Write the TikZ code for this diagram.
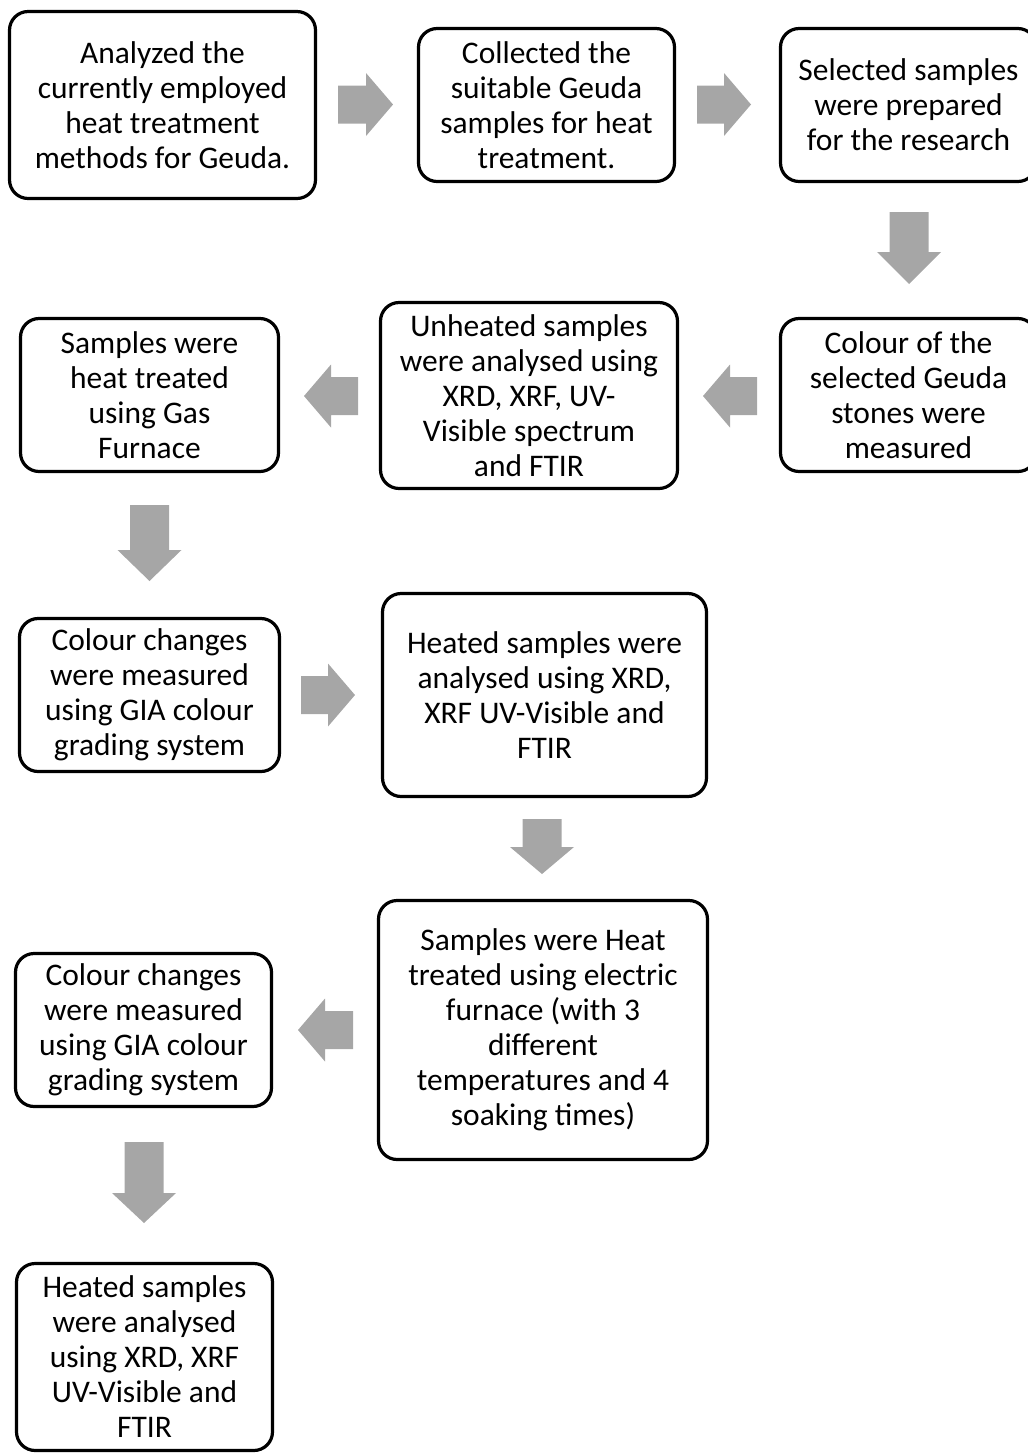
\documentclass[tikz,border=0pt]{standalone}
\usepackage{fontspec}
\setmainfont{Carlito}
\definecolor{arrgray}{HTML}{A6A6A6}
\tikzset{
  stepbox/.style={draw=black, line width=2.4pt, rounded corners=14pt, align=center,
    inner sep=0pt, font=\fontsize{23.6pt}{26.25pt}\selectfont, text=black},
  arrowfill/.style={fill=arrgray, draw=none}
}
% right arrow: tail x, tip x, centre y
\newcommand{\rarr}[3]{\fill[arrowfill] (#1,#3-19) -- (#2-27,#3-19) -- (#2-27,#3-31.5) -- (#2,#3) -- (#2-27,#3+31.5) -- (#2-27,#3+19) -- (#1,#3+19) -- cycle;}
% left arrow: tip x, tail x, centre y
\newcommand{\larr}[3]{\fill[arrowfill] (#2,#3-19) -- (#1+27,#3-19) -- (#1+27,#3-31.5) -- (#1,#3) -- (#1+27,#3+31.5) -- (#1+27,#3+19) -- (#2,#3+19) -- cycle;}
% down arrow: centre x, top y, tip y, head length
\newcommand{\darr}[4]{\fill[arrowfill] (#1-19.5,#2) -- (#1+19.5,#2) -- (#1+19.5,#3-#4) -- (#1+32,#3-#4) -- (#1,#3) -- (#1-32,#3-#4) -- (#1-19.5,#3-#4) -- (#1-19.5,#2) -- cycle;}
\begin{document}
\begin{tikzpicture}[x=0.75pt,y=-0.75pt]
\useasboundingbox (0,0) rectangle (1028,1454);
\node[stepbox, minimum width=306*0.75pt, minimum height=187*0.75pt] (b1) at (162.5,105)
  {Analyzed the\\currently employed\\heat treatment\\methods for Geuda.};
\node[stepbox, minimum width=256*0.75pt, minimum height=153*0.75pt] (b2) at (546.5,105)
  {Collected the\\suitable Geuda\\samples for heat\\treatment.};
\node[stepbox, minimum width=256*0.75pt, minimum height=153*0.75pt] (b3) at (908.5,105)
  {Selected samples\\were prepared\\for the research};
\node[stepbox, minimum width=258*0.75pt, minimum height=153*0.75pt] (b4) at (149.5,395)
  {Samples were\\heat treated\\using Gas\\Furnace};
\node[stepbox, minimum width=297*0.75pt, minimum height=186*0.75pt] (b5) at (529,395.5)
  {Unheated samples\\were analysed using\\XRD, XRF, UV-\\Visible spectrum\\and FTIR};
\node[stepbox, minimum width=256*0.75pt, minimum height=153*0.75pt] (b6) at (908.5,395)
  {Colour of the\\selected Geuda\\stones were\\measured};
\node[stepbox, minimum width=260*0.75pt, minimum height=153*0.75pt] (b7) at (149.5,695)
  {Colour changes\\were measured\\using GIA colour\\grading system};
\node[stepbox, minimum width=324*0.75pt, minimum height=203*0.75pt] (b8) at (544.5,695)
  {Heated samples were\\analysed using XRD,\\XRF UV-Visible and\\FTIR};
\node[stepbox, minimum width=329*0.75pt, minimum height=259*0.75pt] (b9) at (543,1030)
  {Samples were Heat\\treated using electric\\furnace (with 3\\different\\temperatures and 4\\soaking times)};
\node[stepbox, minimum width=256*0.75pt, minimum height=153*0.75pt] (b10) at (143.5,1030)
  {Colour changes\\were measured\\using GIA colour\\grading system};
\node[stepbox, minimum width=256*0.75pt, minimum height=187*0.75pt] (b11) at (144.5,1357)
  {Heated samples\\were analysed\\using XRD, XRF\\UV-Visible and\\FTIR};
% block arrows
\rarr{338}{393}{104.5}
\rarr{697}{751}{104.5}
\darr{909}{212}{284}{32}
\larr{304}{358}{396}
\larr{703}{757}{396}
\darr{149.5}{505}{581}{31}
\rarr{301}{355}{695}
\darr{542}{819}{874}{27}
\larr{298}{353}{1030}
\darr{144}{1142}{1223}{30}
\end{tikzpicture}
\end{document}
